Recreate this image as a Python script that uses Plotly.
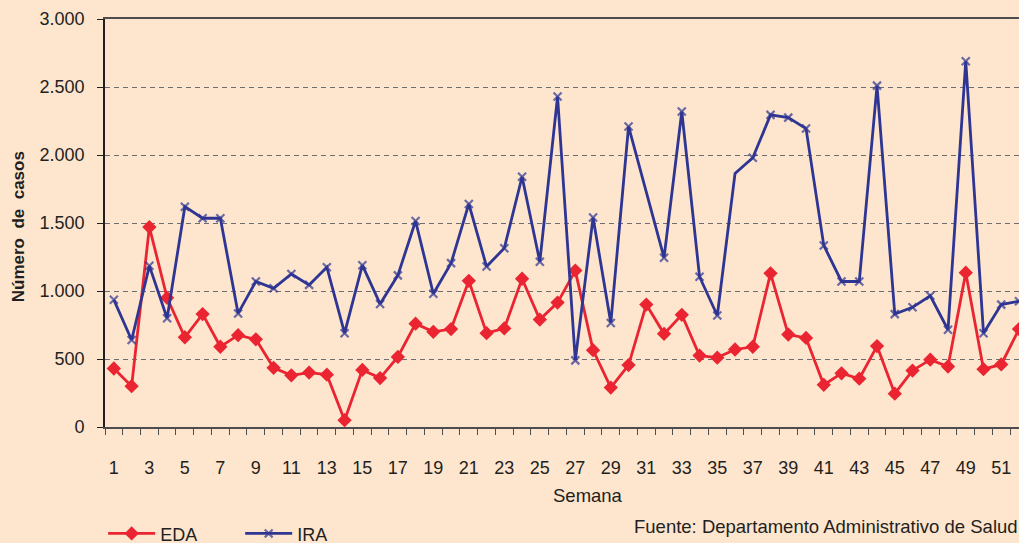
import plotly.graph_objects as go

# Weekly case counts (epidemiological weeks 1-52)
weeks = list(range(1, 53))
eda = [430, 300, 1470, 950, 660, 830, 590, 675, 645, 435,
       380, 400, 385, 50, 420, 360, 515, 760, 700, 720,
       1075, 690, 725, 1090, 790, 915, 1150, 565, 290, 455,
       900, 685, 825, 525, 510, 570, 590, 1130, 680, 655,
       310, 395, 355, 595, 245, 415, 495, 445, 1135, 425,
       460, 720]
ira = [935, 640, 1185, 800, 1620, 1535, 1535, 835, 1070, 1020,
       1125, 1045, 1175, 690, 1190, 905, 1115, 1515, 980, 1205,
       1640, 1180, 1315, 1840, 1215, 2430, 490, 1540, 765, 2210,
       None, 1245, 2320, 1105, 820, 1865, 1980, 2295, 2275, 2195,
       1335, 1070, 1070, 2510, 830, 880, 965, 715, 2690, 690,
       900, 925]

x_tick_vals = list(range(1, 53, 2))
x_tick_text = [str(v) for v in x_tick_vals]
y_tick_vals = [0, 500, 1000, 1500, 2000, 2500, 3000]
y_tick_text = ["0", "500", "1.000", "1.500", "2.000", "2.500", "3.000"]

BG = "#FDE5CE"
RED = "#EA2430"
BLUE = "#2E3592"
INK = "#231F20"
FONT = "Liberation Sans, Arial, sans-serif"

# the week-36 IRA value has no marker drawn
ira_sizes = [0 if w == 36 else 8 for w in weeks]

fig = go.Figure()
fig.add_trace(go.Scatter(
    x=weeks, y=eda, name="EDA", mode="lines+markers",
    line=dict(color=RED, width=2.8),
    marker=dict(symbol="diamond", size=11, color=RED),
))
fig.add_trace(go.Scatter(
    x=weeks, y=ira, name="IRA", mode="lines+markers", connectgaps=True,
    line=dict(color=BLUE, width=2.8),
    marker=dict(symbol="x-thin", size=ira_sizes, color=BLUE,
                line=dict(color=BLUE, width=2.2)),
))

fig.update_layout(
    width=1019, height=543,
    margin=dict(l=105, r=0, t=19, b=116, autoexpand=False),
    paper_bgcolor=BG, plot_bgcolor=BG,
    font=dict(family=FONT, size=18, color=INK),
    showlegend=True,
    legend=dict(orientation="h", x=-0.002, xanchor="left",
                yref="container", y=0.017, yanchor="middle",
                bgcolor="rgba(0,0,0,0)", font=dict(size=18, color=INK),
                itemwidth=47, entrywidth=75, tracegroupgap=0),
    xaxis=dict(
        range=[0.5, 52.0], tickmode="array", tickvals=x_tick_vals, ticktext=x_tick_text,
        ticks="", ticklabelstandoff=24,
        showline=True, linecolor="#4D4D4F", linewidth=1.6, mirror=True,
        showgrid=False, zeroline=False,
        minor=dict(tickvals=[k + 0.5 for k in range(0, 53)], ticks="outside",
                   ticklen=6, tickwidth=1.4, tickcolor="#4D4D4F", showgrid=False),
    ),
    yaxis=dict(
        range=[0, 3000], tickmode="array", tickvals=y_tick_vals, ticktext=y_tick_text,
        ticks="outside", ticklen=6, tickwidth=1.4, tickcolor=INK,
        ticklabelstandoff=9,
        showline=True, linecolor=INK, linewidth=1.6,
        showgrid=True, gridcolor="#6D6E71", gridwidth=1.3, griddash="5px,4px",
        zeroline=False,
    ),
    annotations=[
        dict(text="Semana", xref="paper", yref="paper", x=0.528, y=-0.167,
             xanchor="center", yanchor="middle", showarrow=False,
             font=dict(size=18.5, color=INK)),
        dict(text="<b>Número  de  casos</b>", xref="paper", yref="paper",
             x=-0.095, y=0.49, textangle=-90, xanchor="center", yanchor="middle",
             showarrow=False, font=dict(size=17, color=INK)),
        dict(text="Fuente: Departamento Administrativo de Salud", xref="paper", yref="paper",
             x=0.577, y=-0.245, xanchor="left", yanchor="middle", showarrow=False,
             font=dict(size=18.5, color=INK)),
    ],
)

fig.write_html("out.html")
